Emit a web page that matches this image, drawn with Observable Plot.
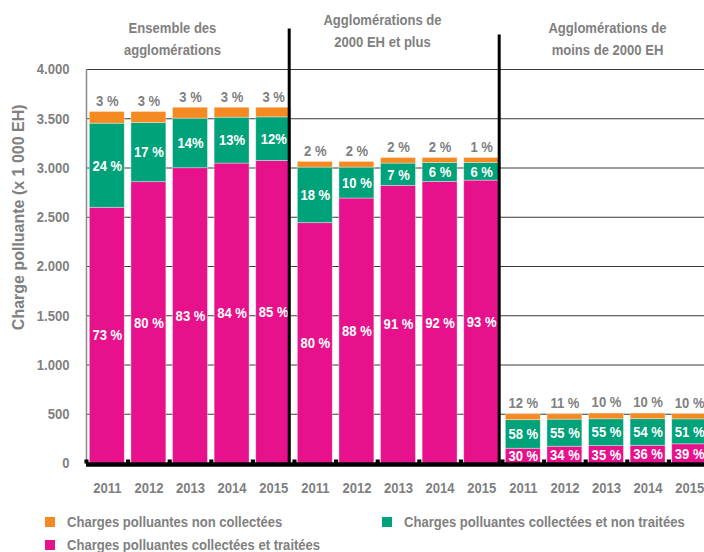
<!DOCTYPE html>
<html>
<head>
<meta charset="utf-8">
<script src="https://cdn.jsdelivr.net/npm/d3@7"></script>
<script src="https://cdn.jsdelivr.net/npm/@observablehq/plot@0.6"></script>
<style>
  body { margin: 0; background: #fff; }
  #wrap { position: relative; width: 704px; height: 552px; font-family: "Liberation Sans", Arial, sans-serif; font-weight: bold; color: #808080; overflow: hidden; }
  .leg { position: absolute; font-size: 15px; line-height: 18px; white-space: nowrap; }
  .leg span.sw { position: absolute; left: 0; top: 4px; width: 10px; height: 10px; }
  .leg span.tx { display: inline-block; margin-left: 22px; transform: scaleX(0.87); transform-origin: 0 50%; }
</style>
</head>
<body>
<div id="wrap"><div id="chart"></div></div>
<script>
// ---- data (x 1 000 EH) ----
const years = ["2011", "2012", "2013", "2014", "2015"];
const groupKeys = ["ens", "big", "small"];
const groupTitles = ["Ensemble des\nagglomérations", "Agglomérations de\n2000 EH et plus", "Agglomérations de\nmoins de 2000 EH"];
const seriesNames = ["Charges polluantes collectées et traitées", "Charges polluantes collectées et non traitées", "Charges polluantes non collectées"];
const seriesColors = ["#E8118C", "#00A27A", "#F58A22"];
const yTitle = "Charge polluante (x 1 000 EH)";

const treated    = { ens: [2596, 2856, 2998, 3045, 3072], big: [2440, 2690, 2819, 2859, 2872], small: [150, 170, 177, 180, 195] };
const untreated  = { ens: [854, 601, 503, 466, 442],      big: [564, 314, 226, 193, 180],      small: [290, 275, 272, 270, 253] };
const notCollected = { ens: [119, 112, 111, 101, 98],     big: [58, 58, 57, 50, 50],           small: [60, 55, 58, 57, 55] };

const treatedLabels    = { ens: ["73 %", "80 %", "83 %", "84 %", "85 %"], big: ["80 %", "88 %", "91 %", "92 %", "93 %"], small: ["30 %", "34 %", "35 %", "36 %", "39 %"] };
const untreatedLabels  = { ens: ["24 %", "17 %", "14%", "13%", "12%"],   big: ["18 %", "10 %", "7 %", "6 %", "6 %"],    small: ["58 %", "55 %", "55 %", "54 %", "51 %"] };
const notCollectedLabels = { ens: ["3 %", "3 %", "3 %", "3 %", "3 %"],   big: ["2 %", "2 %", "2 %", "2 %", "1 %"],      small: ["12 %", "11 %", "10 %", "10 %", "10 %"] };

const yTicks = [0, 500, 1000, 1500, 2000, 2500, 3000, 3500, 4000];
const sepTop = [4410, 4350];

// ---- build table ----
const keys = [];
const rows = [];
const totals = [];
groupKeys.forEach(g => {
  years.forEach((yr, i) => {
    const key = g + "|" + yr;
    keys.push(key);
    rows.push({ key, series: seriesNames[0], value: treated[g][i], label: treatedLabels[g][i] });
    rows.push({ key, series: seriesNames[1], value: untreated[g][i], label: untreatedLabels[g][i] });
    rows.push({ key, series: seriesNames[2], value: notCollected[g][i], label: "" });
    totals.push({ key, total: treated[g][i] + untreated[g][i] + notCollected[g][i], label: notCollectedLabels[g][i] });
  });
});

const gray = "#808080";
const step = (710 - 86) / 15;
const fmt = d => d3.format(",")(d).replace(/,/g, ".");

const chart = Plot.plot({
  width: 704,
  height: 500,
  marginTop: 69,
  marginBottom: 37,
  marginLeft: 86,
  marginRight: 0,
  style: { fontFamily: "'Liberation Sans', Arial, sans-serif", fontWeight: "bold", fontSize: "15px", color: gray, background: "#fff", overflow: "visible" },
  x: { type: "band", domain: keys, range: [86, 710], paddingInner: 0.16, paddingOuter: 0.08, round: false },
  y: { domain: [0, 4000] },
  color: { domain: seriesNames, range: seriesColors },
  marks: [
    Plot.ruleY(yTicks.filter(d => d > 0), { stroke: "#3a3a3a", strokeWidth: 1 }),
    Plot.barY(rows, { x: "key", y: "value", fill: "series", stroke: "#ffffff", strokeOpacity: 0.45, strokeWidth: 0.8 }),
    Plot.text(rows, Plot.stackY({ x: "key", y: "value", text: "label", fill: "white", fontSize: 15, fontWeight: "bold" })),
    Plot.text(totals, { x: "key", y: "total", text: "label", dy: -11, fill: gray, fontSize: 15, fontWeight: "bold" }),
    // group separators
    Plot.ruleX([keys[4]], { y1: 0, y2: sepTop[0], dx: 15.5, stroke: "black", strokeWidth: 3 }),
    Plot.ruleX([keys[9]], { y1: 0, y2: sepTop[1], dx: 17.5, stroke: "black", strokeWidth: 3 }),
    // y axis line
    Plot.ruleX([keys[0]], { y1: 0, y2: 4000, dx: -step / 2, stroke: "#8a8a8a", strokeWidth: 1.5 }),
    // baseline
    Plot.ruleY([0], { stroke: "black", strokeWidth: 4.5, dy: 1 }),
    Plot.dot(keys, { x: d => d, y: 0, symbol: "square", r: 2.3, fill: "black", dx: -step / 2, dy: -2 }),
    // axes
    Plot.axisY(yTicks, { tickSize: 0, tickPadding: 17, tickFormat: fmt, fill: gray, fontSize: 15, fontWeight: "bold", label: null }),
    Plot.text([yTitle], { frameAnchor: "left", y: () => 2500, text: d => d, rotate: -90, textAnchor: "middle", dx: -68, fill: gray, fontSize: 16, fontWeight: "bold", className: "ytitle" }),
    Plot.axisX({ tickSize: 0, tickPadding: 19, tickFormat: d => d.split("|")[1], fill: gray, fontSize: 15, fontWeight: "bold", label: null }),
    // group titles
    Plot.text([groupTitles[0]], { x: () => keys[2], y: () => 4000, text: d => d, dx: -18, dy: -33, lineAnchor: "middle", lineHeight: 1.47, fill: gray, fontSize: 15, fontWeight: "bold" }),
    Plot.text([groupTitles[1]], { x: () => keys[7], y: () => 4000, text: d => d, dx: -16, dy: -41, lineAnchor: "middle", lineHeight: 1.47, fill: gray, fontSize: 15, fontWeight: "bold" }),
    Plot.text([groupTitles[2]], { x: () => keys[12], y: () => 4000, text: d => d, dx: 1, dy: -33, lineAnchor: "middle", lineHeight: 1.47, fill: gray, fontSize: 15, fontWeight: "bold" })
  ]
});
document.getElementById("chart").appendChild(chart);

// narrow the glyphs (condensed look, like the original's narrow bold face)
const squeeze = 0.87;
chart.querySelectorAll("text").forEach(t => {
  if (t.closest(".ytitle")) return;
  const spans = t.querySelectorAll("tspan");
  const targets = spans.length ? Array.from(spans) : [t];
  targets.forEach(el => {
    const n = el.getComputedTextLength();
    if (n > 0) {
      el.setAttribute("textLength", (n * squeeze).toFixed(2));
      el.setAttribute("lengthAdjust", "spacingAndGlyphs");
    }
  });
});

// ---- legend ----
const legendItems = [
  { name: seriesNames[2], color: seriesColors[2], left: 45, top: 513 },
  { name: seriesNames[1], color: seriesColors[1], left: 382, top: 513 },
  { name: seriesNames[0], color: seriesColors[0], left: 45, top: 536 }
];
const wrap = document.getElementById("wrap");
legendItems.forEach(it => {
  const d = document.createElement("div");
  d.className = "leg";
  d.style.left = it.left + "px";
  d.style.top = it.top + "px";
  d.innerHTML = `<span class="sw" style="background:${it.color}"></span><span class="tx"></span>`;
  d.querySelector(".tx").textContent = it.name;
  wrap.appendChild(d);
});
</script>
</body>
</html>
